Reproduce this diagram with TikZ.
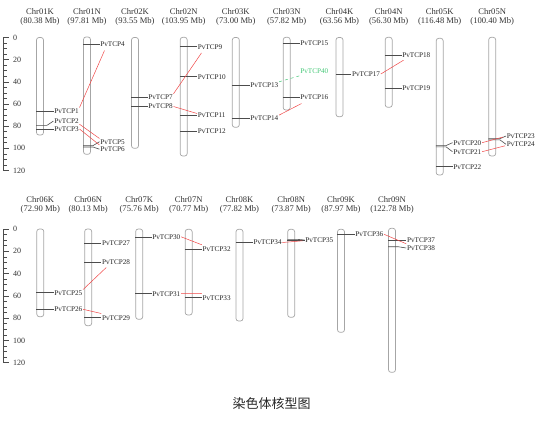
\documentclass[tikz,border=0pt]{standalone}
\usepackage{fontspec}
\setmainfont{Liberation Serif}
\newfontfamily\cjkfont{Noto Sans CJK SC}
\definecolor{dupred}{RGB}{240,70,70}
\definecolor{dupgreen}{RGB}{70,200,120}
\newcommand\chrom[4]{%
  \pgfmathsetmacro\chrh{#4-#3}%
  \pgfmathsetmacro\chrc{(#3+#4)/2}%
  \node[chr, minimum height=\chrh pt] (#1) at (#2,\chrc) {};}
\begin{document}
\begin{tikzpicture}[x=1pt,y=-1pt,
  chr/.style={draw=black!35, fill=white, line width=0.7pt, rounded corners=2.5pt, minimum width=7pt, inner sep=0pt},
  chrlab/.style={font=\fontsize{8.6}{9}\selectfont, align=center, text=black!80, inner sep=0pt},
  gl/.style={font=\fontsize{7.2}{8}\selectfont, anchor=west, inner sep=0.6pt, text=black!85},
  mk/.style={draw=black!70, line width=0.6pt},
  dup/.style={draw=dupred, line width=0.5pt},
  gdup/.style={draw=dupgreen, line width=0.5pt, dashed},
  ax/.style={draw=black!70, line width=0.6pt},
  axl/.style={font=\fontsize{8}{9}\selectfont, anchor=west, inner sep=0.5pt, text=black!80}
]
\useasboundingbox (0,0) rectangle (544,421);

% ---------- axes ----------
\draw[ax] (3.3,37.5) -- (3.3,170.5);
\foreach \v in {0,5,...,120} {\pgfmathsetmacro\yy{37.5+1.1083*\v}\draw[ax] (3.3,\yy) -- ++(3.2,0);}
\foreach \v in {0,20,...,120} {\pgfmathsetmacro\yy{37.5+1.1083*\v}\draw[ax] (3.3,\yy) -- ++(6,0) node[axl] (ta\v) at (12.3,\yy) {\v};}
\draw[ax] (3.3,229) -- (3.3,362.7);
\foreach \v in {0,5,...,120} {\pgfmathsetmacro\yy{229+1.1142*\v}\draw[ax] (3.3,\yy) -- ++(3.2,0);}
\foreach \v in {0,20,...,120} {\pgfmathsetmacro\yy{229+1.1142*\v}\draw[ax] (3.3,\yy) -- ++(6,0) node[axl] (ba\v) at (12.3,\yy) {\v};}

% ---------- chromosome labels ----------
\node[chrlab] (l01K) at (40,16.7) {Chr01K\\(80.38 Mb)};
\node[chrlab] (l01N) at (87,16.7) {Chr01N\\(97.81 Mb)};
\node[chrlab] (l02K) at (135,16.7) {Chr02K\\(93.55 Mb)};
\node[chrlab] (l02N) at (183.7,16.7) {Chr02N\\(103.95 Mb)};
\node[chrlab] (l03K) at (235.8,16.7) {Chr03K\\(73.00 Mb)};
\node[chrlab] (l03N) at (286.7,16.7) {Chr03N\\(57.82 Mb)};
\node[chrlab] (l04K) at (339.5,16.7) {Chr04K\\(63.56 Mb)};
\node[chrlab] (l04N) at (388.7,16.7) {Chr04N\\(56.30 Mb)};
\node[chrlab] (l05K) at (439.7,16.7) {Chr05K\\(116.48 Mb)};
\node[chrlab] (l05N) at (492.2,16.7) {Chr05N\\(100.40 Mb)};
\node[chrlab] (l06K) at (40.3,205) {Chr06K\\(72.90 Mb)};
\node[chrlab] (l06N) at (88.2,205) {Chr06N\\(80.13 Mb)};
\node[chrlab] (l07K) at (139.2,205) {Chr07K\\(75.76 Mb)};
\node[chrlab] (l07N) at (188.7,205) {Chr07N\\(70.77 Mb)};
\node[chrlab] (l08K) at (239.5,205) {Chr08K\\(77.82 Mb)};
\node[chrlab] (l08N) at (291.2,205) {Chr08N\\(73.87 Mb)};
\node[chrlab] (l09K) at (341,205) {Chr09K\\(87.97 Mb)};
\node[chrlab] (l09N) at (392,205) {Chr09N\\(122.78 Mb)};

% ---------- chromosomes ----------
\chrom{c01K}{40}{37.5}{135}
\chrom{c01N}{87}{37}{154.3}
\chrom{c02K}{135}{37.5}{148.3}
\chrom{c02N}{183.7}{37.3}{156}
\chrom{c03K}{235.8}{37.5}{127.3}
\chrom{c03N}{286.7}{37.3}{110}
\chrom{c04K}{339.5}{37.5}{116.7}
\chrom{c04N}{388.7}{37.3}{107.3}
\chrom{c05K}{439.7}{38.3}{175}
\chrom{c05N}{492.2}{37.3}{156}
\chrom{c06K}{40.3}{229}{316.7}
\chrom{c06N}{88.2}{229}{325.7}
\chrom{c07K}{139.2}{229}{319.3}
\chrom{c07N}{188.7}{229.3}{315}
\chrom{c08K}{239.5}{229.3}{321}
\chrom{c08N}{291.2}{229.3}{317.3}
\chrom{c09K}{341}{229.3}{332.3}
\chrom{c09N}{392}{228.3}{372.3}

% ---------- gene labels ----------
\node[gl] (g1) at (53.5,110.8) {PvTCP1};
\node[gl] (g2) at (53.5,121) {PvTCP2};
\node[gl] (g3) at (53.5,129) {PvTCP3};
\node[gl] (g4) at (99.5,44.3) {PvTCP4};
\node[gl] (g5) at (99.5,141.7) {PvTCP5};
\node[gl] (g6) at (99.5,149.2) {PvTCP6};
\node[gl] (g7) at (147.5,97) {PvTCP7};
\node[gl] (g8) at (147.5,106.5) {PvTCP8};
\node[gl] (g9) at (197,46.7) {PvTCP9};
\node[gl] (g10) at (197,76.7) {PvTCP10};
\node[gl] (g11) at (197,115) {PvTCP11};
\node[gl] (g12) at (197,131) {PvTCP12};
\node[gl] (g13) at (249.5,85) {PvTCP13};
\node[gl] (g14) at (249.5,118.3) {PvTCP14};
\node[gl] (g15) at (299.5,43.3) {PvTCP15};
\node[gl, text=dupgreen] (g40) at (299.5,71) {PvTCP40};
\node[gl] (g16) at (299.5,97.3) {PvTCP16};
\node[gl] (g17) at (351.2,74) {PvTCP17};
\node[gl] (g18) at (401.5,55) {PvTCP18};
\node[gl] (g19) at (401.5,88.3) {PvTCP19};
\node[gl] (g20) at (452.5,142.7) {PvTCP20};
\node[gl] (g21) at (452.5,151.7) {PvTCP21};
\node[gl] (g22) at (452.5,166.7) {PvTCP22};
\node[gl] (g23) at (506,136) {PvTCP23};
\node[gl] (g24) at (506,144.3) {PvTCP24};
\node[gl] (g25) at (53.5,292.7) {PvTCP25};
\node[gl] (g26) at (53.5,309.3) {PvTCP26};
\node[gl] (g27) at (101.2,243.5) {PvTCP27};
\node[gl] (g28) at (101.2,262.3) {PvTCP28};
\node[gl] (g29) at (101.2,317.7) {PvTCP29};
\node[gl] (g30) at (151.5,236.8) {PvTCP30};
\node[gl] (g31) at (151.5,293.7) {PvTCP31};
\node[gl] (g32) at (201.8,249) {PvTCP32};
\node[gl] (g33) at (201.8,297.7) {PvTCP33};
\node[gl] (g34) at (252.8,242.5) {PvTCP34};
\node[gl] (g35) at (304.5,240) {PvTCP35};
\node[gl] (g36) at (354.5,234.3) {PvTCP36};
\node[gl] (g37) at (406.2,240) {PvTCP37};
\node[gl] (g38) at (406.2,248) {PvTCP38};

% ---------- marker lines ----------
\coordinate (b2) at (47,125.3);
\coordinate (b5) at (93,145.6);
\coordinate (b6) at (93,147);
\coordinate (b20) at (446,145.6);
\coordinate (b21) at (446,146.8);
\coordinate (b23) at (500,138.7);
\coordinate (b24) at (500,139.9);
\coordinate (b38) at (398,246.7);
\coordinate (b35) at (298,239.4);
\draw[mk] (c01K.west |- g1.west) -- (g1.west);
\draw[mk] (c01K.west |- b2) -- (b2) -- (g2.west);
\draw[mk] (c01K.west |- g3.west) -- (g3.west);
\draw[mk] (c01N.west |- g4.west) -- (g4.west);
\draw[mk] (c01N.west |- b5) -- (b5) -- (g5.west);
\draw[mk] (c01N.west |- b6) -- (b6) -- (g6.west);
\draw[mk] (c02K.west |- g7.west) -- (g7.west);
\draw[mk] (c02K.west |- g8.west) -- (g8.west);
\draw[mk] (c02N.west |- g9.west) -- (g9.west);
\draw[mk] (c02N.west |- g10.west) -- (g10.west);
\draw[mk] (c02N.west |- g11.west) -- (g11.west);
\draw[mk] (c02N.west |- g12.west) -- (g12.west);
\draw[mk] (c03K.west |- g13.west) -- (g13.west);
\draw[mk] (c03K.west |- g14.west) -- (g14.west);
\draw[mk] (c03N.west |- g15.west) -- (g15.west);
\draw[mk] (c03N.west |- g16.west) -- (g16.west);
\draw[mk] (c04K.west |- g17.west) -- (g17.west);
\draw[mk] (c04N.west |- g18.west) -- (g18.west);
\draw[mk] (c04N.west |- g19.west) -- (g19.west);
\draw[mk] (c05K.west |- b20) -- (b20) -- (g20.west);
\draw[mk] (c05K.west |- b21) -- (b21) -- (g21.west);
\draw[mk] (c05K.west |- g22.west) -- (g22.west);
\draw[mk] (c05N.west |- b23) -- (b23) -- (g23.west);
\draw[mk] (c05N.west |- b24) -- (b24) -- (g24.west);
\draw[mk] (c06K.west |- g25.west) -- (g25.west);
\draw[mk] (c06K.west |- g26.west) -- (g26.west);
\draw[mk] (c06N.west |- g27.west) -- (g27.west);
\draw[mk] (c06N.west |- g28.west) -- (g28.west);
\draw[mk] (c06N.west |- g29.west) -- (g29.west);
\draw[mk] (c07K.west |- g30.west) -- (g30.west);
\draw[mk] (c07K.west |- g31.west) -- (g31.west);
\draw[mk] (c07N.west |- g32.west) -- (g32.west);
\draw[mk] (c07N.west |- g33.west) -- (g33.west);
\draw[mk] (c08K.west |- g34.west) -- (g34.west);
\draw[mk] (c08N.west |- b35) -- (b35) -- (g35.west);
\draw[mk] (c08N.west |- g35.west) -- (g35.west);
\draw[mk] (c09K.west |- g36.west) -- (g36.west);
\draw[mk] (c09N.west |- g37.west) -- (g37.west);
\draw[mk] (c09N.west |- b38) -- (b38) -- (g38.west);

% ---------- duplication links ----------
\draw[dup] (g1.north east) -- ([xshift=5pt,yshift=-3pt]g4.south west);
\draw[dup] (g2.south east) -- (g5.north west);
\draw[dup] (g3.east) -- ([yshift=1pt]g6.north west);
\draw[dup] (g7.north east) -- ([xshift=4.5pt,yshift=-3pt]g9.south west);
\draw[dup] (g8.east) -- ([yshift=1.5pt]g11.west);
\draw[gdup] (g13.north east) -- ([xshift=2pt,yshift=-1pt]g40.south west);
\draw[dup] (g14.north east) -- ([xshift=2pt,yshift=-3pt]g16.south west);
\draw[dup] (g17.east) -- ([xshift=2pt,yshift=-2pt]g18.south west);
\draw[dup] (g20.east) -- ([xshift=-3pt,yshift=-1pt]g23.west);
\draw[dup] (g21.east) -- ([xshift=-1pt,yshift=-1.5pt]g24.west);
\draw[dup] (g25.north east) -- ([xshift=5pt,yshift=-2pt]g28.south west);
\draw[dup] (g26.east) -- ([yshift=1pt]g29.north west);
\draw[dup] (g30.east) -- ([yshift=1pt]g32.north west);
\draw[dup] (g31.east) -- ([yshift=1pt]g33.north west);
\draw[dup] (g34.east) -- ([xshift=-2pt,yshift=-0.8pt]g35.west);
\draw[dup] (g36.east) -- ([yshift=1pt]g38.north west);

% ---------- caption ----------
\node[font=\cjkfont\fontsize{13}{15}\selectfont, text=black!85] (cap) at (271.7,403.5) {染色体核型图};
\end{tikzpicture}
\end{document}
